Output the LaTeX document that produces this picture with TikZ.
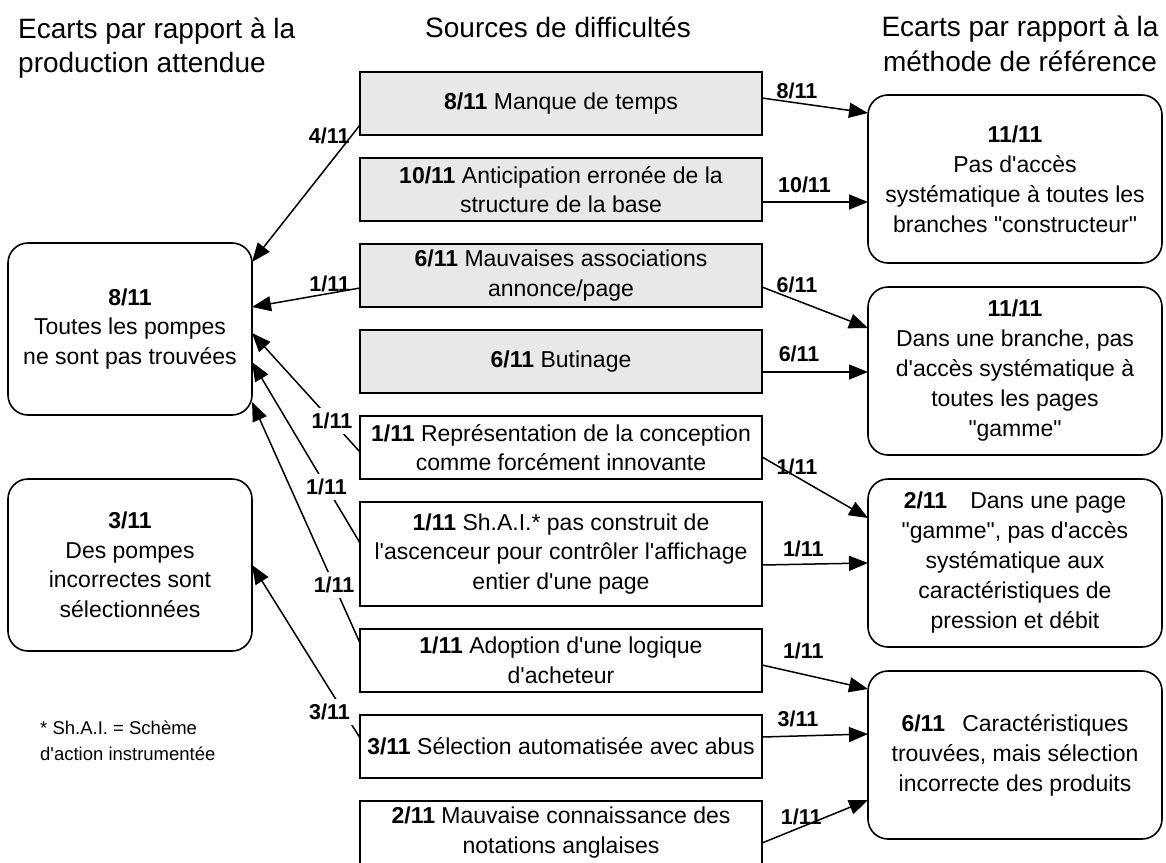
\documentclass[tikz,border=0pt]{standalone}
\usepackage{fontspec}
\setmainfont{Liberation Sans}[Ligatures=TeXOff]
\usepackage{tikz}
\usetikzlibrary{arrows.meta,positioning}
\definecolor{boxgray}{RGB}{232,232,232}
\tikzset{source/.style={rectangle,draw=black,line width=1.6pt,outer sep=0pt,minimum width=402pt,minimum height=63pt,align=center,inner sep=3pt},
		hard/.style={source,fill=boxgray},
		post/.style={-{Triangle[length=19pt,width=15pt]},line width=1.5pt}}

\begin{document}
\begin{tikzpicture}[x=1pt,y=-1pt,node distance=23pt and 23pt,
		font=\fontsize{23}{29.5}\selectfont,
		title/.style={font=\fontsize{28}{34.5}\selectfont,inner sep=0pt},
		ecart/.style={rectangle,rounded corners=20pt,draw=black,line width=1.6pt,outer sep=0pt,minimum width=244pt,minimum height=172pt,align=center},
		methode/.style={ecart,minimum width=294pt,minimum height=168pt,font=\fontsize{23}{30}\selectfont},
		frac/.style={font=\bfseries\fontsize{21.5}{26}\selectfont,inner sep=1pt},
		cut/.style={frac,fill=white,inner sep=5pt}]
		\useasboundingbox (0,0) rectangle (1166,862);
		\node[title,anchor=west,align=left] (titre-production) at (18,48) {Ecarts par rapport à la\\production attendue};
		\node[title] (titre-sources) at (558,27) {Sources de difficultés};
		\node[title,align=center] (titre-methode) at (1020,44) {Ecarts par rapport à la\\méthode de référence};
		
		% sources de difficultes
		\node[hard] (manque-temps) at (561,103.5) {\textbf{8/11} Manque de temps};
		\node[hard] (anticipation) [below=of manque-temps] {\textbf{10/11} Anticipation erronée de la\\structure de la base};
		\node[hard] (associations) [below=of anticipation] {\textbf{6/11} Mauvaises associations\\annonce/page};
		\node[hard] (butinage) [below=of associations] {\textbf{6/11} Butinage};
		\node[source] (representation) [below=of butinage] {\textbf{1/11} Représentation de la conception\\comme forcément innovante};
		\node[source,minimum height=104pt] (shai) [below=of representation] {\textbf{1/11} Sh.A.I.* pas construit de\\l'ascenceur pour contrôler l'affichage\\entier d'une page};
		\node[source] (acheteur) [below=of shai] {\textbf{1/11} Adoption d'une logique\\d'acheteur};
		\node[source] (abus) [below=of acheteur] {\textbf{3/11} Sélection automatisée avec abus};
		\node[source] (notations) [below=of abus] {\textbf{2/11} Mauvaise connaissance des\\notations anglaises};
		
		% ecarts production
		\node[ecart] (pompes-trouvees) at (130,329) {\textbf{8/11}\\Toutes les pompes\\ne sont pas trouvées};
		\node[ecart,node distance=64pt] (pompes-incorrectes) [below=of pompes-trouvees] {\textbf{3/11}\\Des pompes\\incorrectes sont\\sélectionnées};
		\node[anchor=west,align=left,inner sep=0pt,font=\fontsize{18.5}{26}\selectfont] (note) at (40,741) {* Sh.A.I. = Schème\\d'action instrumentée};
		
		% ecarts methode
		\node[methode] (acces-branches) at (1015,179) {\textbf{11/11}\\Pas d'accès\\systématique à toutes les\\branches "constructeur"};
		\node[methode,node distance=24pt] (acces-pages) [below=of acces-branches] {\textbf{11/11}\\Dans une branche, pas\\d'accès systématique à\\toutes les pages\\"gamme"};
		\node[methode,node distance=24pt] (acces-carac) [below=of acces-pages] {\textbf{2/11}\hspace{1em}Dans une page\\"gamme", pas d'accès\\systématique aux\\caractéristiques de\\pression et débit};
		\node[methode,node distance=24pt] (selection) [below=of acces-carac] {\textbf{6/11}\hspace{0.75em}Caractéristiques\\trouvées, mais sélection\\incorrecte des produits};
		
		\draw[post] ([yshift=5.5pt]manque-temps.east) -- node[frac,above=2pt,pos=0.33] {8/11} ([yshift=66pt]acces-branches.west);
		\draw[post] ([yshift=-12.5pt]anticipation.east) -- node[frac,above=7pt,pos=0.4] {10/11} ([yshift=-23pt]acces-branches.west);
		\draw[post] ([yshift=-11.5pt]associations.east) -- node[frac,above=6pt,pos=0.33] {6/11} ([yshift=43pt]acces-pages.west);
		\draw[post] ([yshift=-10.5pt]butinage.east) -- node[frac,above=8pt,pos=0.35] {6/11} ([yshift=-1pt]acces-pages.west);
		\draw[post] ([yshift=-9.5pt]representation.east) -- node[frac,above=0pt,pos=0.33] {1/11} ([yshift=45pt]acces-carac.west);
		\draw[post] ([yshift=-11pt]shai.east) -- node[frac,above=6pt,pos=0.39] {1/11} (acces-carac.west);
		\draw[post] ([yshift=-4.5pt]acheteur.east) -- node[frac,above=14pt,pos=0.39] {1/11} ([yshift=66pt]selection.west);
		\draw[post] ([yshift=9.5pt]abus.east) -- node[frac,above=7pt,pos=0.34] {3/11} ([yshift=21pt]selection.west);
		\draw[post] ([yshift=-10.5pt]notations.east) -- node[frac,above=0pt,pos=0.37] {1/11} ([yshift=-45pt]selection.west);
		
		\draw[post] ([yshift=-21.5pt]manque-temps.west) -- node[frac,left,pos=0.08] {4/11} ([yshift=67pt]pompes-trouvees.east);
		\draw[post] ([yshift=-12.5pt]associations.west) -- node[frac,above,pos=0.28] {1/11} ([yshift=22pt]pompes-trouvees.east);
		\draw[post] ([yshift=-4.5pt]representation.west) -- node[cut,pos=0.26] {1/11} ([yshift=-4pt]pompes-trouvees.east);
		\draw[post] ([yshift=11pt]shai.west) -- node[cut,pos=0.31] {1/11} ([yshift=-33pt]pompes-trouvees.east);
		\draw[post] ([yshift=17.5pt]acheteur.west) -- node[cut,pos=0.24] {1/11} ([yshift=-73pt]pompes-trouvees.east);
		\draw[post] ([yshift=8.5pt]abus.west) -- node[cut,pos=0.2,xshift=-9pt,yshift=-9pt] {3/11} (pompes-incorrectes.east);
	\end{tikzpicture}
\end{document}
